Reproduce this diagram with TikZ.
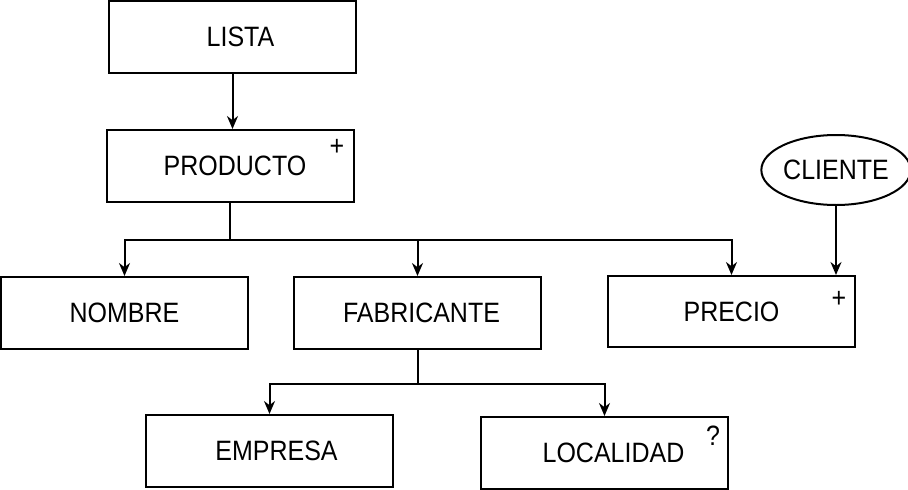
\documentclass[tikz,border=0pt]{standalone}
\usepackage{fontspec}
\setmainfont{Liberation Sans}
\usetikzlibrary{arrows.meta,shapes.geometric}
\newcommand{\tall}[1]{\scalebox{1}[1.12]{#1}}
\begin{document}
\begin{tikzpicture}[x=1pt,y=-1pt,
  box/.style={draw,line width=2pt,minimum width=247pt,minimum height=72pt,inner sep=0pt,font=\fontsize{25}{29}\selectfont},
  oval/.style={draw,ellipse,line width=2pt,minimum width=144pt,minimum height=70pt,inner sep=0pt,font=\fontsize{25}{29}\selectfont},
  sign/.style={font=\fontsize{25}{29}\selectfont,inner sep=0pt},
  conn/.style={line width=2pt},
  arr/.style={line width=2pt,-{Stealth[length=13pt,width=11pt]}}]
\useasboundingbox (0,0) rectangle (908,490);
\node[box] (lista) at (232.5,37) {\hspace{16pt}\tall{LISTA}};
\node[box] (producto) at (230,166) {\hspace{10pt}\tall{PRODUCTO}};
\node[sign] (p1) at (337,147) {\tall{+}};
\node[oval] (cliente) at (836,170) {\tall{CLIENTE}};
\node[box] (nombre) at (124.5,313) {\tall{NOMBRE}\hspace{8pt}};
\node[box] (fabricante) at (417.5,313) {\hspace{8pt}\tall{FABRICANTE}};
\node[box,minimum height=71pt] (precio) at (731.5,311.5) {\tall{PRECIO}};
\node[sign] (p2) at (839,299) {\tall{+}};
\node[box] (empresa) at (269.5,451) {\hspace{14pt}\tall{EMPRESA}};
\node[box] (localidad) at (604.5,453) {\hspace{18pt}\tall{LOCALIDAD}};
\node[sign] (q1) at (713,436) {\tall{?}};
\draw[arr] (lista.south) -- (lista.south |- producto.north);
\draw[conn] (producto.south) -- ++(0,37) coordinate (j1);
\draw[arr] (j1) -| (nombre.north);
\draw[arr] (j1) -| (fabricante.north);
\draw[arr] (j1) -| (precio.north);
\draw[arr] (cliente.south) -- (cliente.south |- precio.north);
\draw[conn] (fabricante.south) -- ++(0,34) coordinate (j2);
\draw[arr] (j2) -| (empresa.north);
\draw[arr] (j2) -| (localidad.north);
\end{tikzpicture}
\end{document}
